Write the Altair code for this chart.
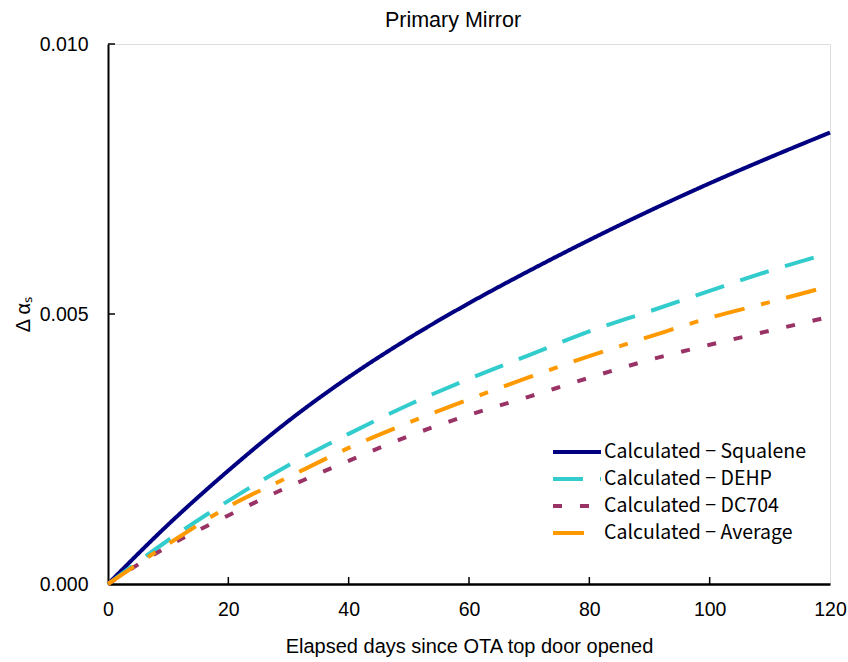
import altair as alt
import pandas as pd

days = [0, 10, 20, 30, 40, 50, 60, 70, 80, 90, 100, 110, 120]
squalene = [0, 1.10, 2.10, 3.02, 3.83, 4.55, 5.20, 5.80, 6.37, 6.91, 7.42, 7.90, 8.36]
dehp = [0, 0.81, 1.54, 2.20, 2.78, 3.32, 3.80, 4.24, 4.68, 5.05, 5.43, 5.80, 6.13]
dc704 = [0, 0.70, 1.27, 1.80, 2.28, 2.74, 3.13, 3.47, 3.82, 4.15, 4.43, 4.69, 4.95]
average = [0, 0.74, 1.43, 1.98, 2.52, 2.99, 3.42, 3.83, 4.22, 4.58, 4.93, 5.22, 5.52]

series_names = ["Calculated − Squalene", "Calculated − DEHP", "Calculated − DC704", "Calculated − Average"]
series_colors = ["#000080", "#33CCCC", "#993366", "#FF9900"]
series_dashes = [[1, 0], [30, 17], [9, 18], [31, 17, 9, 17]]

x_ticks = [0, 20, 40, 60, 80, 100, 120]
y_ticks = [0.0, 0.005, 0.010]

rows = []
for name, vals in zip(series_names, [squalene, dehp, dc704, average]):
    for d, v in zip(days, vals):
        rows.append({"day": d, "value": v / 1000.0, "series": name})
df = pd.DataFrame(rows)

xscale = alt.Scale(domain=[0, 120], nice=False)
yscale = alt.Scale(domain=[0, 0.010], nice=False)

lines = alt.Chart(df).mark_line(strokeWidth=4, interpolate="monotone", strokeCap="butt").encode(
    x=alt.X("day:Q", scale=xscale,
            axis=alt.Axis(values=x_ticks, title="Elapsed days since OTA top door opened",
                          grid=False, tickSize=0, labelPadding=16, titlePadding=18,
                          labelFlush=False,
                          domainWidth=2.5, domainColor="black", labelFontSize=19.5,
                          titleFontSize=20, titleFontWeight="normal", labelColor="black",
                          titleColor="black", labelFont="Liberation Sans", titleFont="Liberation Sans")),
    y=alt.Y("value:Q", scale=yscale,
            axis=alt.Axis(values=y_ticks, format=".3f", title="Δ αₛ", grid=False, tickSize=0,
                          labelPadding=20, titlePadding=6, domainWidth=2, domainColor="black",
                          labelFlush=False,
                          labelFontSize=19.5, titleFontSize=20, titleFontWeight="normal",
                          labelColor="black", titleColor="black", labelFont="Liberation Sans",
                          titleFont="Liberation Sans")),
    color=alt.Color("series:N", scale=alt.Scale(domain=series_names, range=series_colors),
                    sort=series_names,
                    legend=alt.Legend(title=None, orient="none", legendX=443, legendY=396,
                                      symbolType="M-1,0H3.8", symbolSize=400, symbolStrokeWidth=4,
                                      symbolFillColor="transparent",
                                      labelFontSize=19.5, labelFont="Noto Sans CJK JP",
                                      labelColor="black", rowPadding=5, labelOffset=29,
                                      labelLimit=400)),
    strokeDash=alt.StrokeDash("series:N", scale=alt.Scale(domain=series_names, range=series_dashes),
                              sort=series_names, legend=alt.Legend(title=None)),
)

xt = pd.DataFrame({"t": x_ticks[1:-1]})
yt = pd.DataFrame({"t": y_ticks[1:]})

xticks = alt.Chart(xt).mark_rule(color="black", strokeWidth=1.5).encode(
    x=alt.X("t:Q", scale=xscale), y=alt.value(540), y2=alt.value(533))
yticks = alt.Chart(yt).mark_rule(color="black", strokeWidth=1.5).encode(
    y=alt.Y("t:Q", scale=yscale), x=alt.value(0), x2=alt.value(7))

chart = alt.layer(lines, xticks, yticks).properties(
    width=722, height=540,
    title=alt.Title("Primary Mirror", fontSize=21.5, fontWeight="normal", font="Liberation Sans",
                    color="black", anchor="middle", offset=3, dx=-16),
    autosize=alt.AutoSizeParams(type="none"),
    padding={"left": 108, "top": 44, "right": 18, "bottom": 78},
).configure_view(stroke="black", strokeWidth=1).configure(background="white")

chart.save("out.html", embed_options={"renderer": "svg", "actions": False})
